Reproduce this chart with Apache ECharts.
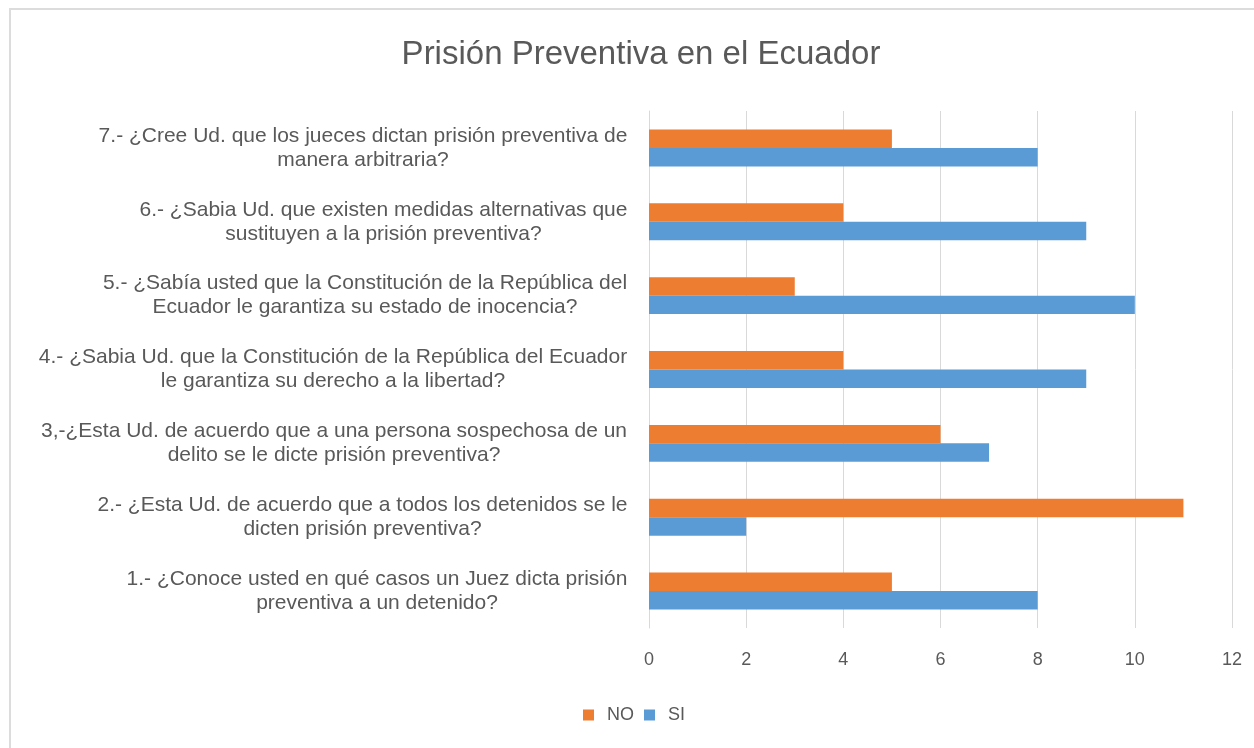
<!DOCTYPE html>
<html>
<head>
<meta charset="utf-8">
<script src="https://cdn.jsdelivr.net/npm/echarts@6/dist/echarts.min.js"></script>
<style>
html,body{margin:0;padding:0;background:#fff;}
#frame{position:absolute;left:9px;top:8px;width:1300px;height:800px;border-left:2px solid #dcdcdc;border-top:2px solid #dcdcdc;box-sizing:border-box;}
#chart{position:absolute;left:0;top:0;width:1254px;height:748px;}
</style>
</head>
<body>
<div id="frame"></div>
<div id="chart"></div>
<script>
const titleText = 'Prisión Preventiva en el Ecuador';
const categories = [
  '1.- ¿Conoce usted en qué casos un Juez dicta prisión\npreventiva a un detenido?',
  '2.- ¿Esta Ud. de acuerdo que a todos los detenidos se le\ndicten prisión preventiva?',
  '3,-¿Esta Ud. de acuerdo que a una persona sospechosa de un\ndelito se le dicte prisión preventiva?',
  '4.- ¿Sabia Ud. que la Constitución de la República del Ecuador\nle garantiza su derecho a la libertad?',
  '5.- ¿Sabía usted que la Constitución de la República del\nEcuador le garantiza su estado de inocencia?',
  '6.- ¿Sabia Ud. que existen medidas alternativas que\nsustituyen a la prisión preventiva?',
  '7.- ¿Cree Ud. que los jueces dictan prisión preventiva de\nmanera arbitraria?'
];
const seriesNames = ['NO', 'SI'];
const noValues = [5, 11, 6, 4, 3, 4, 5];
const siValues = [8, 2, 7, 9, 10, 9, 8];

const FONT = 'Liberation Sans';
const LABEL_SIZE = 21;
const TEXT_COLOR = '#595959';

// measure lines to center them inside each label block
const ctx = document.createElement('canvas').getContext('2d');
ctx.font = LABEL_SIZE + 'px "' + FONT + '"';
const rich = {};
categories.forEach((c, i) => {
  const w = Math.max(...c.split('\n').map(l => ctx.measureText(l).width));
  rich['r' + i] = {width: Math.ceil(w) + 1, align: 'center', fontSize: LABEL_SIZE, fontFamily: FONT, color: TEXT_COLOR, lineHeight: 24};
});

const chart = echarts.init(document.getElementById('chart'));
chart.setOption({
  animation: false,
  textStyle: {fontFamily: FONT, color: TEXT_COLOR},
  title: {
    text: titleText, left: 636, textAlign: 'center', top: 33,
    textStyle: {fontFamily: FONT, fontSize: 33, fontWeight: 'normal', color: TEXT_COLOR}
  },
  legend: {
    data: seriesNames, bottom: 24, left: 583, padding: 0,
    icon: 'rect', itemWidth: 11, itemHeight: 11, itemGap: 10,
    textStyle: {fontSize: 18, color: TEXT_COLOR, fontFamily: FONT, padding: [0, 0, 0, 8]}
  },
  grid: {left: 649, right: 22, top: 111, bottom: 120, containLabel: false},
  xAxis: {
    type: 'value', min: 0, max: 12, interval: 2,
    axisLine: {show: false}, axisTick: {show: false},
    splitLine: {lineStyle: {color: '#d9d9d9', width: 1}},
    axisLabel: {fontSize: 18, color: TEXT_COLOR, margin: 23, fontFamily: FONT}
  },
  yAxis: {
    type: 'category', data: categories,
    axisLine: {show: true, lineStyle: {color: '#d9d9d9'}}, axisTick: {show: false},
    axisLabel: {
      margin: 21, align: 'right',
      formatter: (v, i) => v.split('\n').map(l => '{r' + i + '|' + l + '}').join('\n'),
      rich: rich
    }
  },
  series: [
    {name: 'NO', type: 'bar', data: noValues, barGap: '0%', barCategoryGap: '50%', itemStyle: {color: '#ED7D31'}},
    {name: 'SI', type: 'bar', data: siValues, barGap: '0%', barCategoryGap: '50%', itemStyle: {color: '#5B9BD5'}}
  ]
});
</script>
</body>
</html>
